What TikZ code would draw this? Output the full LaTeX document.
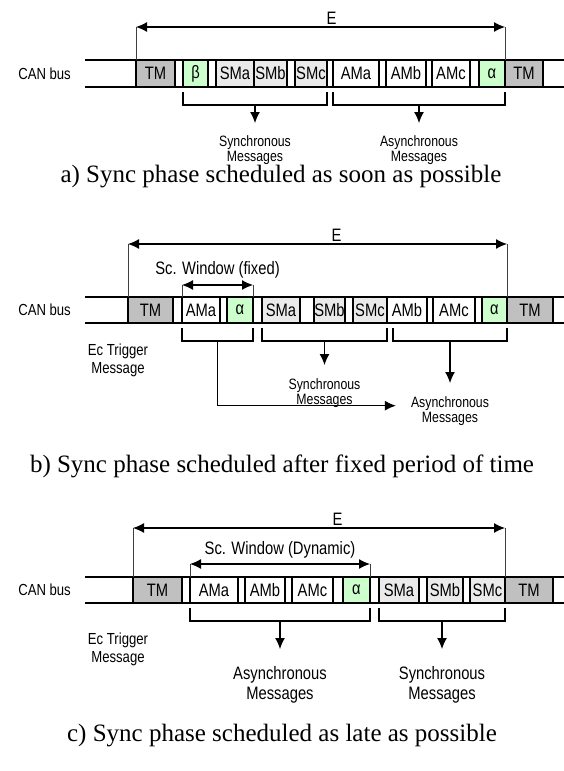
\documentclass[tikz,border=0pt]{standalone}
\usepackage{fontspec}
\setmainfont{Liberation Serif}
\newfontfamily\narrowsf[FakeStretch=0.82]{Liberation Sans}
\usetikzlibrary{arrows.meta,positioning,calc}
\definecolor{tmgray}{RGB}{192,192,192}
\definecolor{smgray}{RGB}{234,234,234}
\definecolor{flaggreen}{RGB}{204,255,204}
\newcommand\msgfont{\narrowsf\fontsize{18}{20}\selectfont}
\newcommand\smlfont{\narrowsf\fontsize{15}{15}\selectfont}
\newcommand\busfont{\narrowsf\fontsize{16}{18}\selectfont}
\tikzset{
	>={Latex[length=11pt,width=10pt]},
	msg/.style={draw, line width=1.7pt, minimum height=27pt, inner sep=0pt,
		outer sep=0pt, font=\msgfont, fill=white},
	tmbox/.style={msg, fill=tmgray},
	smbox/.style={msg, fill=smgray},
	ambox/.style={msg},
	flagbox/.style={msg, fill=flaggreen},
	busline/.style={line width=1.7pt},
	guide/.style={line width=0.6pt, black!75},
	span/.style={<->, line width=1.2pt},
	bracket/.style={line width=1.3pt},
	stem/.style={->, line width=1.2pt},
	lbl/.style={font=\msgfont, align=center, inner sep=1pt},
	smlbl/.style={font=\smlfont, align=center, inner sep=1pt},
	buslbl/.style={font=\busfont, align=center, inner sep=1pt},
	caption/.style={font=\fontsize{25}{27}\selectfont, inner sep=0pt},
}
\begin{document}
\begin{tikzpicture}[x=1pt,y=-1pt]
\useasboundingbox (0,0) rectangle (564,771);

% a) sync phase as soon as possible
\draw[busline] (85,60) -- (564,60) (85,87) -- (564,87);
\node[buslbl, anchor=east] (a-can) at (72,73.5) {CAN bus};
\foreach \n/\lx/\rx/\txt/\sty in {tml/136/175/TM/tmbox, beta/183/208/β/flagbox,
	sma/216/254/SMa/smbox, smb/254/287/SMb/smbox, smc/295/327/SMc/smbox,
	ama/333/379/AMa/ambox, amb/386/426/AMb/ambox, amc/432/470/AMc/ambox,
	alpha/479/505/α/flagbox, tmr/505/543/TM/tmbox, tail/543/575/{}/ambox}
	\node[\sty, minimum width={(\rx-\lx)*1pt}] (a-\n) at ({(\lx+\rx)/2},73.5) {\txt};
\draw[guide] (a-tml.north west) -- ++(0,-33) coordinate (a-el);
\draw[guide] (a-alpha.north east) -- ++(0,-33) coordinate (a-er);
\draw[span] (a-el) -- node[lbl, pos=.53, above=1pt] (a-e) {E} (a-er);
\draw[bracket] ([yshift=-5pt]a-beta.south west) -- ++(0,13) -| ([yshift=-5pt]a-smc.south east);
\draw[bracket] ([yshift=-5pt]a-ama.south west) -- ++(0,13) -| ([yshift=-5pt]a-alpha.south east);
\coordinate (a-k1) at ($(a-beta.south west)!.5!(a-smc.south east)+(0,18)$);
\coordinate (a-k2) at ($(a-ama.south west)!.5!(a-alpha.south east)+(0,18)$);
\node[smlbl, below=29pt of a-k1] (a-sync) {Synchronous\\Messages};
\node[smlbl, below=29pt of a-k2] (a-async) {Asynchronous\\Messages};
\draw[stem, shorten >=11pt] (a-k1) -- (a-sync);
\draw[stem, shorten >=11pt] (a-k2) -- (a-async);
\node[caption] (a-cap) at (281,177) {a) Sync phase scheduled as soon as possible};

% b) sync phase after fixed period
\draw[busline] (85,297) -- (564,297) (85,323) -- (564,323);
\node[buslbl, anchor=east] (b-can) at (72,310) {CAN bus};
\foreach \n/\lx/\rx/\txt/\sty in {tml/128/173/TM/tmbox, ama/182/220/AMa/ambox,
	alphaa/227/253/α/flagbox, sma/262/300/SMa/smbox, smb/314/345/SMb/smbox,
	smc/353/387/SMc/smbox, amb/387/427/AMb/ambox, amc/433/475/AMc/ambox,
	alphab/482/507/α/flagbox, tmr/507/553/TM/tmbox, tail/553/575/{}/ambox}
	\node[\sty, minimum width={(\rx-\lx)*1pt}, minimum height=26pt] (b-\n) at ({(\lx+\rx)/2},310) {\txt};
\draw[guide] (b-tml.north west) -- ++(0,-53) coordinate (b-el);
\draw[guide] (b-alphab.north east) -- ++(0,-53) coordinate (b-er);
\draw[span] (b-el) -- node[lbl, pos=.55, above=1pt] (b-e) {E} (b-er);
\draw[guide] (b-ama.north west) -- ++(0,-12) coordinate (b-wl);
\draw[guide] (b-alphaa.north east) -- ++(0,-12) coordinate (b-wr);
\draw[span] (b-wl) -- node[lbl, midway, above=5pt] (b-win) {Sc. Window (fixed)} (b-wr);
\draw[bracket] ([yshift=-5pt]b-ama.south west) -- ++(0,13) -| ([yshift=-5pt]b-alphaa.south east);
\draw[bracket] ([yshift=-5pt]b-sma.south west) -- ++(0,13) -| ([yshift=-5pt]b-smc.south east);
\draw[bracket] ([xshift=6pt,yshift=-5pt]b-amb.south west) -- ++(0,13) -| ([yshift=-5pt]b-alphab.south east);
\coordinate (b-k1) at ($(b-ama.south west)!.5!(b-alphaa.south east)+(0,18)$);
\coordinate (b-k2) at ($(b-sma.south west)!.5!(b-smc.south east)+(0,18)$);
\coordinate (b-k3) at ($([xshift=6pt]b-amb.south west)!.5!(b-alphab.south east)+(0,18)$);
\node[buslbl] (b-ec) at (118,360) {Ec Trigger\\Message};
\node[smlbl, below=36pt of b-k2] (b-sync) {Synchronous\\Messages};
\node[smlbl, below=54pt of b-k3] (b-async) {Asynchronous\\Messages};
\draw[stem, shorten >=12pt] (b-k2) -- (b-sync);
\draw[stem, shorten >=12pt] (b-k3) -- (b-async);
\draw[stem, shorten >=14pt] (b-k1) |- ([yshift=5pt]b-async.west);
\node[caption] (b-cap) at (282,466) {b) Sync phase scheduled after fixed period of time};

% c) sync phase as late as possible
\draw[busline] (85,577) -- (564,577) (85,603) -- (564,603);
\node[buslbl, anchor=east] (c-can) at (72,590) {CAN bus};
\foreach \n/\lx/\rx/\txt/\sty in {tml/133/182/TM/tmbox, ama/190/238/AMa/ambox,
	amb/245/285/AMb/ambox, amc/292/333/AMc/ambox, alpha/343/370/α/flagbox,
	sma/379/419/SMa/smbox, smb/427/463/SMb/smbox, smc/470/505/SMc/smbox,
	tmr/505/553/TM/tmbox, tail/553/575/{}/ambox}
	\node[\sty, minimum width={(\rx-\lx)*1pt}, minimum height=26pt] (c-\n) at ({(\lx+\rx)/2},590) {\txt};
\draw[guide] (c-tml.north west) -- ++(0,-49) coordinate (c-el);
\draw[guide] (c-smc.north east) -- ++(0,-49) coordinate (c-er);
\draw[span] (c-el) -- node[lbl, pos=.55, above=1pt] (c-e) {E} (c-er);
\draw[guide] (c-ama.north west) -- ++(0,-13) coordinate (c-wl);
\draw[guide] (c-alpha.north east) -- ++(0,-13) coordinate (c-wr);
\draw[span] (c-wl) -- node[lbl, midway, above=4pt] (c-win) {Sc. Window (Dynamic)} (c-wr);
\draw[bracket] ([yshift=-5pt]c-ama.south west) -- ++(0,13) -| ([yshift=-5pt]c-alpha.south east);
\draw[bracket] ([yshift=-5pt]c-sma.south west) -- ++(0,13) -| ([yshift=-5pt]c-smc.south east);
\coordinate (c-k1) at ($(c-ama.south west)!.5!(c-alpha.south east)+(0,18)$);
\coordinate (c-k2) at ($(c-sma.south west)!.5!(c-smc.south east)+(0,18)$);
\node[buslbl] (c-ec) at (118,649) {Ec Trigger\\Message};
\node[lbl, below=44pt of c-k1] (c-async) {Asynchronous\\Messages};
\node[lbl, below=44pt of c-k2] (c-sync) {Synchronous\\Messages};
\draw[stem, shorten >=16pt] (c-k1) -- (c-async);
\draw[stem, shorten >=16pt] (c-k2) -- (c-sync);
\node[caption] (c-cap) at (282,736) {c) Sync phase scheduled as late as possible};
\end{tikzpicture}
\end{document}
